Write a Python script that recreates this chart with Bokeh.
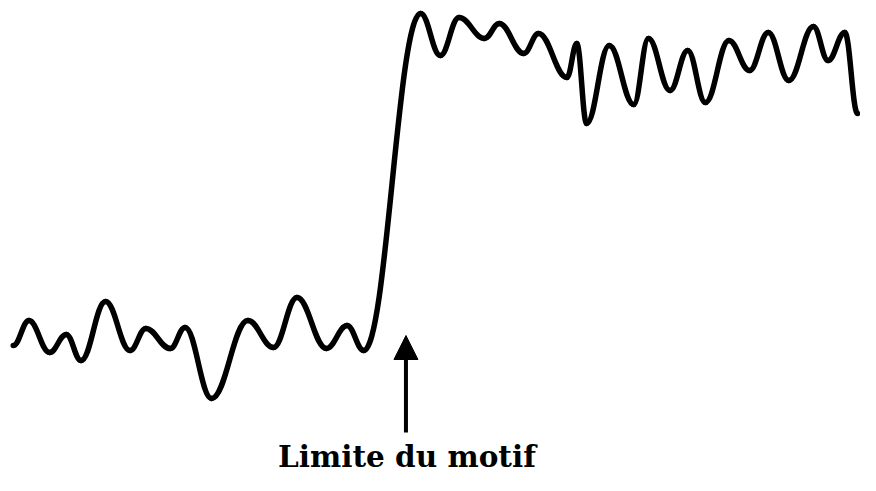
from bokeh.plotting import figure
from bokeh.models import Range1d, Arrow, NormalHead, Label
from bokeh.embed import file_html
from bokeh.resources import INLINE

# Signal extrema (position, level)
pos = [13, 29, 50, 67, 82, 107, 132, 148, 173, 188, 215, 252, 278, 302, 332, 353, 370,
       428, 448, 467, 493, 508, 533, 548, 577, 587, 597, 620, 645, 660, 682, 700, 718,
       742, 763, 782, 803, 828, 843, 860, 873]
level = [146, 171, 139, 157, 131, 190, 141, 163, 143, 164, 93, 171, 144, 194, 143, 166, 141,
         478, 436, 474, 453, 468, 438, 458, 414, 448, 368, 446, 387, 453, 401, 441, 389,
         451, 421, 459, 411, 465, 431, 459, 378]

# Arrow marking the boundary
arrow_x = [413]
arrow_y = [59, 156]
label_text = "Limite du motif"

p = figure(width=860, height=475, output_backend="svg", toolbar_location=None,
           x_range=Range1d(0, 876), y_range=Range1d(16, 491),
           min_border=0)
p.axis.visible = False
p.grid.visible = False
p.outline_line_color = None
p.background_fill_color = "white"
p.border_fill_color = "white"

c = 0.4
x0 = pos[:-1]; x1 = pos[1:]
y0 = level[:-1]; y1 = level[1:]
cx0 = [a + c * (b - a) for a, b in zip(x0, x1)]
cx1 = [b - c * (b - a) for a, b in zip(x0, x1)]
p.bezier(x0=x0, y0=y0, x1=x1, y1=y1, cx0=cx0, cy0=y0, cx1=cx1, cy1=y1,
         line_color="black", line_width=5.5, line_cap="round")

p.add_layout(Arrow(end=NormalHead(size=24, fill_color="black", line_color="black"),
                   x_start=arrow_x[0], y_start=arrow_y[0], x_end=arrow_x[0], y_end=arrow_y[1],
                   line_color="black", line_width=4))

p.add_layout(Label(x=414, y=18, text=label_text, text_align="center", text_baseline="bottom",
                   text_font="DejaVu Serif", text_font_size="29.5px", text_color="black",
                   text_font_style="bold"))

open("out.html", "w").write(file_html(p, INLINE))
